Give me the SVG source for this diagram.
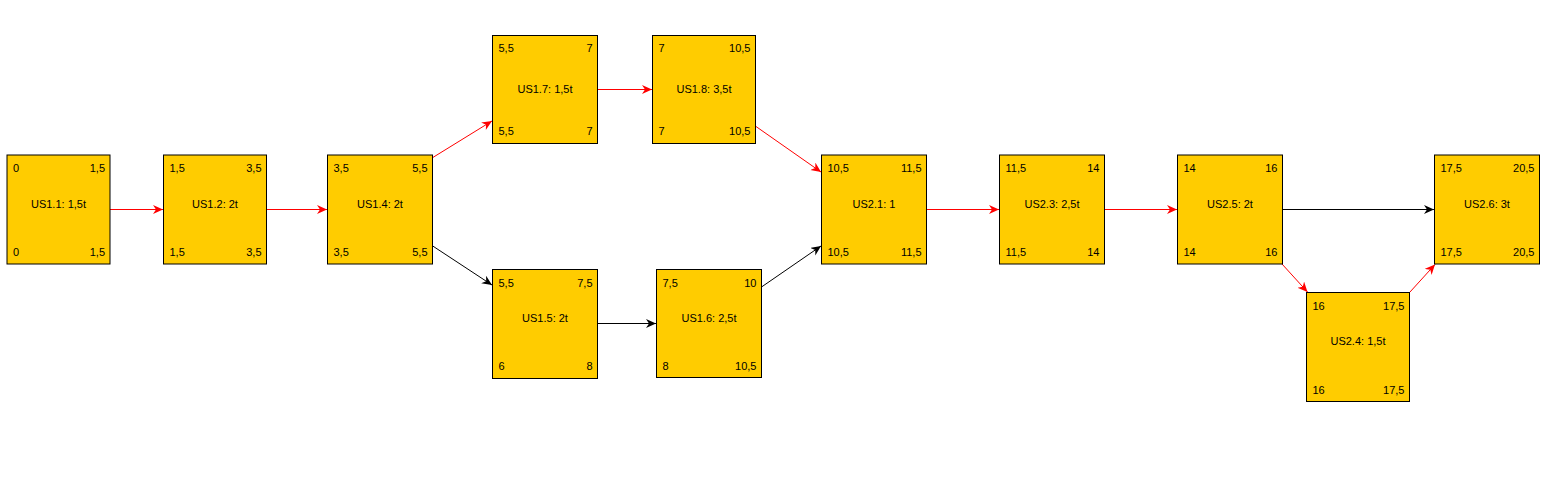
<svg xmlns="http://www.w3.org/2000/svg" width="1560" height="495" viewBox="0 0 1560 495">
<style>
.box{fill:#FFCC00;stroke:#000;stroke-width:1}
text{font-family:"Liberation Sans",Arial,sans-serif;font-size:11px;fill:#000}
.r{text-anchor:end}
.c{text-anchor:middle}
.red{stroke:#FF0000;stroke-width:1;fill:none;marker-end:url(#ar)}
.blk{stroke:#000;stroke-width:1;fill:none;marker-end:url(#ab)}
</style>
<defs>
<marker id="ar" markerUnits="userSpaceOnUse" markerWidth="12" markerHeight="10" refX="10" refY="4.5" orient="auto" viewBox="0 0 12 10">
<path d="M0,0 L10,4.5 L0,9 L3,4.5 Z" fill="#FF0000"/>
</marker>
<marker id="ab" markerUnits="userSpaceOnUse" markerWidth="12" markerHeight="10" refX="10" refY="4.5" orient="auto" viewBox="0 0 12 10">
<path d="M0,0 L10,4.5 L0,9 L3,4.5 Z" fill="#000"/>
</marker>
</defs>
<rect width="1560" height="495" fill="#fff"/>
<g id="connectors">
<line class="red" x1="110" y1="209.5" x2="163" y2="209.5"/>
<line class="red" x1="266.5" y1="209.5" x2="327" y2="209.5"/>
<line class="red" x1="432" y1="158" x2="492" y2="121"/>
<line class="blk" x1="432" y1="245.5" x2="492" y2="285"/>
<line class="red" x1="597.5" y1="89.5" x2="652" y2="89.5"/>
<line class="blk" x1="597.5" y1="323.5" x2="656" y2="323.5"/>
<line class="red" x1="756" y1="126.5" x2="821" y2="172"/>
<line class="blk" x1="761.5" y1="287" x2="821" y2="246"/>
<line class="red" x1="926.5" y1="209.5" x2="999" y2="209.5"/>
<line class="red" x1="1104.5" y1="209.5" x2="1177" y2="209.5"/>
<line class="blk" x1="1282.5" y1="209.5" x2="1434" y2="209.5"/>
<line class="red" x1="1282" y1="264" x2="1307.5" y2="292"/>
<line class="red" x1="1410" y1="292" x2="1435" y2="264.5"/>
</g>
<g id="n11"><rect class="box" x="7" y="155" width="103" height="109"/>
<text x="13" y="172">0</text><text class="r" x="105" y="172">1,5</text>
<text x="13" y="256">0</text><text class="r" x="105" y="256">1,5</text>
<text class="c" x="58.5" y="207.5">US1.1: 1,5t</text></g>
<g id="n12"><rect class="box" x="163.5" y="155" width="103" height="109"/>
<text x="169.5" y="172">1,5</text><text class="r" x="261.5" y="172">3,5</text>
<text x="169.5" y="256">1,5</text><text class="r" x="261.5" y="256">3,5</text>
<text class="c" x="215" y="207.5">US1.2: 2t</text></g>
<g id="n14"><rect class="box" x="327.5" y="155" width="105" height="109"/>
<text x="333.5" y="172">3,5</text><text class="r" x="427.5" y="172">5,5</text>
<text x="333.5" y="256">3,5</text><text class="r" x="427.5" y="256">5,5</text>
<text class="c" x="380" y="207.5">US1.4: 2t</text></g>
<g id="n17"><rect class="box" x="492.5" y="35.5" width="105" height="108"/>
<text x="498.5" y="51.5">5,5</text><text class="r" x="592.5" y="51.5">7</text>
<text x="498.5" y="135">5,5</text><text class="r" x="592.5" y="135">7</text>
<text class="c" x="545" y="93">US1.7: 1,5t</text></g>
<g id="n18"><rect class="box" x="652.5" y="35.5" width="103" height="108"/>
<text x="658.5" y="51.5">7</text><text class="r" x="750.5" y="51.5">10,5</text>
<text x="658.5" y="135">7</text><text class="r" x="750.5" y="135">10,5</text>
<text class="c" x="704" y="93">US1.8: 3,5t</text></g>
<g id="n15"><rect class="box" x="492.5" y="269.5" width="105" height="109"/>
<text x="498.5" y="286.5">5,5</text><text class="r" x="592.5" y="286.5">7,5</text>
<text x="498.5" y="370">6</text><text class="r" x="592.5" y="370">8</text>
<text class="c" x="545" y="322">US1.5: 2t</text></g>
<g id="n16"><rect class="box" x="656.5" y="269.5" width="105" height="108"/>
<text x="662.5" y="286.5">7,5</text><text class="r" x="756.5" y="286.5">10</text>
<text x="662.5" y="370">8</text><text class="r" x="756.5" y="370">10,5</text>
<text class="c" x="709" y="322">US1.6: 2,5t</text></g>
<g id="n21"><rect class="box" x="821.5" y="155" width="105" height="109"/>
<text x="827.5" y="172">10,5</text><text class="r" x="921.5" y="172">11,5</text>
<text x="827.5" y="256">10,5</text><text class="r" x="921.5" y="256">11,5</text>
<text class="c" x="874" y="207.5">US2.1: 1</text></g>
<g id="n23"><rect class="box" x="999.5" y="155" width="105" height="109"/>
<text x="1005.5" y="172">11,5</text><text class="r" x="1099.5" y="172">14</text>
<text x="1005.5" y="256">11,5</text><text class="r" x="1099.5" y="256">14</text>
<text class="c" x="1052" y="207.5">US2.3: 2,5t</text></g>
<g id="n25"><rect class="box" x="1177.5" y="155" width="105" height="109"/>
<text x="1183.5" y="172">14</text><text class="r" x="1277.5" y="172">16</text>
<text x="1183.5" y="256">14</text><text class="r" x="1277.5" y="256">16</text>
<text class="c" x="1230" y="207.5">US2.5: 2t</text></g>
<g id="n26"><rect class="box" x="1434.5" y="155" width="105" height="109"/>
<text x="1440.5" y="172">17,5</text><text class="r" x="1534.5" y="172">20,5</text>
<text x="1440.5" y="256">17,5</text><text class="r" x="1534.5" y="256">20,5</text>
<text class="c" x="1487" y="207.5">US2.6: 3t</text></g>
<g id="n24"><rect class="box" x="1306.5" y="292.5" width="103" height="109"/>
<text x="1312.5" y="309.5">16</text><text class="r" x="1404.5" y="309.5">17,5</text>
<text x="1312.5" y="393.5">16</text><text class="r" x="1404.5" y="393.5">17,5</text>
<text class="c" x="1358" y="345">US2.4: 1,5t</text></g>
</svg>
